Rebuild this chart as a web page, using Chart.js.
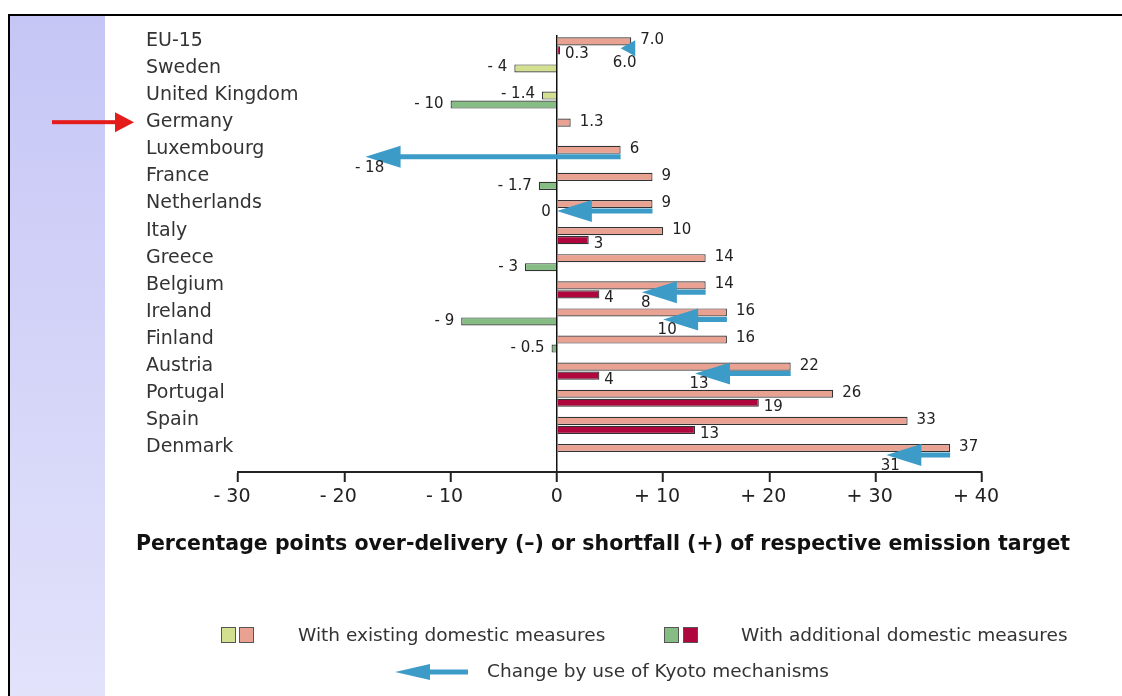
<!DOCTYPE html>
<html><head><meta charset="utf-8">
<script src="https://cdn.jsdelivr.net/npm/chart.js@4.4.0/dist/chart.umd.min.js"></script>
<style>
html,body{margin:0;padding:0;background:#fff;}
#wrap{position:relative;width:1122px;height:696px;overflow:hidden;background:#fff;font-family:'DejaVu Sans',sans-serif;}
#panel{position:absolute;left:10px;top:16px;width:95px;height:680px;background:linear-gradient(#c6c6f6,#e2e2fb);}
#topline{position:absolute;left:8px;top:14px;width:1114px;height:2px;background:#000;}
#leftline{position:absolute;left:8px;top:14px;width:2px;height:682px;background:#000;}
canvas{position:absolute;left:0;top:0;}
.sq{position:absolute;width:15px;height:16px;border:1px solid #555;box-sizing:border-box;}
.lt{position:absolute;font-size:18.5px;color:#333;line-height:22px;white-space:nowrap;}
#xtitle{position:absolute;left:103px;width:1000px;top:530px;line-height:26px;text-align:center;font-size:20.5px;font-weight:bold;color:#111;white-space:nowrap;}
</style></head>
<body>
<div id="wrap">
  <div id="panel"></div><div id="topline"></div><div id="leftline"></div>
  <canvas id="c" width="1122" height="696"></canvas>
  <div id="xtitle"></div>
  <div class="sq" id="sq1" style="left:221px;top:627px"></div>
  <div class="sq" id="sq2" style="left:239px;top:627px"></div>
  <div class="lt" style="left:298px;top:624px">With existing domestic measures</div>
  <div class="sq" id="sq3" style="left:664px;top:627px"></div>
  <div class="sq" id="sq4" style="left:683px;top:627px"></div>
  <div class="lt" style="left:741px;top:624px">With additional domestic measures</div>
  <svg style="position:absolute;left:390px;top:660px" width="85" height="24">
    <rect id="legShaft" x="38" y="9.5" width="40" height="5"/>
    <polygon id="legHead" points="5,12 40,4 40,20"/>
  </svg>
  <div class="lt" style="left:487px;top:660px">Change by use of Kyoto mechanisms</div>
</div>
<script>
// ---------------- data ----------------
const categories = ['EU-15','Sweden','United Kingdom','Germany','Luxembourg','France','Netherlands','Italy','Greece','Belgium','Ireland','Finland','Austria','Portugal','Spain','Denmark'];
const existingValues   = [7.0, -4, -1.4, 1.3, 6, 9, 9, 10, 14, 14, 16, 16, 22, 26, 33, 37];
const additionalValues = [0.3, null, -10, null, null, -1.7, null, 3, -3, 4, -9, -0.5, 4, 19, 13, null];
const existingLabels   = ['7.0','- 4','- 1.4','1.3','6','9','9','10','14','14','16','16','22','26','33','37'];
const additionalLabels = ['0.3',null,'- 10',null,null,'- 1.7',null,'3','- 3','4','- 9','- 0.5','4','19','13',null];
const kyotoCountries = ['EU-15','Luxembourg','Netherlands','Belgium','Ireland','Austria','Denmark'];
const kyotoFrom      = [7.0, 6, 9, 14, 16, 22, 37];
const kyotoTo        = [6.0, -18, 0, 8, 10, 13, 31];
const kyotoLabels    = ['6.0','- 18','0','8','10','13','31'];
const xTickValues = [-30,-20,-10,0,10,20,30,40];
const xTickLabels = ['- 30','- 20','- 10','0','+ 10','+ 20','+ 30','+ 40'];
const highlightedCountry = 'Germany';
const axisTitle = 'Percentage points over-delivery (\u2013) or shortfall (+) of respective emission target';

// ---------------- style ----------------
const COL = {existNeg:'#d3e08f', existPos:'#e9a191', addNeg:'#85bd85', addPos:'#b0063e', arrow:'#3d9bc8', red:'#e51c1c', text:'#333', label:'#222'};
const FONT = 'DejaVu Sans';
const ARROW_SHIFT = 0.09;

document.getElementById('xtitle').textContent = axisTitle;
document.getElementById('sq1').style.background = COL.existNeg;
document.getElementById('sq2').style.background = COL.existPos;
document.getElementById('sq3').style.background = COL.addNeg;
document.getElementById('sq4').style.background = COL.addPos;
document.getElementById('legShaft').setAttribute('fill', COL.arrow);
document.getElementById('legHead').setAttribute('fill', COL.arrow);

const rowOf = name => categories.indexOf(name);

function headGeom(fromPx, tipPx) {
  const len = Math.min(35, Math.abs(fromPx - tipPx) + 4);
  const half = Math.min(11, len * 0.55);
  const dir = fromPx >= tipPx ? 1 : -1;
  return {len, half, dir};
}

const arrowDatasets = kyotoFrom.map((f, k) => ({
  type: 'line',
  label: 'Change by use of Kyoto mechanisms',
  kyoto: k,
  data: [{x: f, y: rowOf(kyotoCountries[k]) + ARROW_SHIFT}, {x: kyotoTo[k], y: rowOf(kyotoCountries[k]) + ARROW_SHIFT}],
  borderColor: COL.arrow, borderWidth: 5, pointRadius: 0, fill: false, tension: 0,
  borderCapStyle: 'butt', clip: false, order: -1
}));

const arrowPlugin = {
  id: 'arrows',
  beforeDatasetDraw(chart, args) {
    const ds = chart.data.datasets[args.index];
    if (ds.kyoto === undefined) return;
    const pts = args.meta.data;
    const g = headGeom(pts[0].x, pts[1].x);
    const ctx = chart.ctx;
    ctx.save();
    ctx.beginPath();
    ctx.rect(0, 0, chart.width, chart.height);
    const a = pts[1].x - g.dir * 2, b = pts[1].x + g.dir * g.len * 0.7;
    ctx.rect(Math.min(a, b), pts[1].y - 4, Math.abs(b - a), 8);
    ctx.clip('evenodd');
  },
  afterDatasetDraw(chart, args) {
    const ds = chart.data.datasets[args.index];
    if (ds.kyoto === undefined) return;
    chart.ctx.restore();
  },
  afterDatasetsDraw(chart) {
    const ctx = chart.ctx;
    ctx.save();
    // arrow heads
    chart.data.datasets.forEach((ds, i) => {
      if (ds.kyoto === undefined) return;
      const pts = chart.getDatasetMeta(i).data;
      const tx = pts[1].x, ty = pts[1].y;
      const g = headGeom(pts[0].x, tx);
      ctx.fillStyle = COL.arrow;
      ctx.beginPath();
      ctx.moveTo(tx, ty);
      ctx.lineTo(tx + g.dir * g.len, ty - g.half);
      ctx.lineTo(tx + g.dir * g.len, ty + g.half);
      ctx.closePath();
      ctx.fill();
    });
    // value labels
    ctx.font = '15px "' + FONT + '"';
    ctx.fillStyle = COL.label;
    ctx.textBaseline = 'middle';
    chart.getDatasetMeta(0).data.forEach((el, i) => {
      const v = existingValues[i];
      if (v === null) return;
      if (v >= 0) { ctx.textAlign = 'left'; ctx.fillText(existingLabels[i], el.x + 9, el.y - 1); }
      else { ctx.textAlign = 'right'; ctx.fillText(existingLabels[i], el.x - 7, el.y - 1); }
    });
    chart.getDatasetMeta(1).data.forEach((el, i) => {
      const v = additionalValues[i];
      if (v === null) return;
      if (v >= 0) { ctx.textAlign = 'left'; ctx.fillText(additionalLabels[i], el.x + 5, el.y + 4); }
      else { ctx.textAlign = 'right'; ctx.fillText(additionalLabels[i], el.x - 7, el.y); }
    });
    chart.data.datasets.forEach((ds, i) => {
      if (ds.kyoto === undefined) return;
      const k = ds.kyoto;
      const pts = chart.getDatasetMeta(i).data;
      if (kyotoTo[k] === 0) { ctx.textAlign = 'right'; ctx.fillText(kyotoLabels[k], pts[1].x - 6, pts[1].y + 1); }
      else { ctx.textAlign = 'center'; ctx.fillText(kyotoLabels[k], pts[1].x + 4, pts[1].y + (k === 0 ? 15 : 11)); }
    });
    // red pointer to highlighted country
    const ys = chart.scales.y;
    const ry = ys.getPixelForValue(rowOf(highlightedCountry)) + ys.options.ticks.labelOffset;
    const tip = ys.left - 12;
    ctx.fillStyle = COL.red;
    ctx.fillRect(tip - 82, ry - 2, 66, 4);
    ctx.beginPath();
    ctx.moveTo(tip, ry);
    ctx.lineTo(tip - 19, ry - 10);
    ctx.lineTo(tip - 19, ry + 10);
    ctx.closePath();
    ctx.fill();
    ctx.restore();
  }
};

Chart.defaults.font.family = FONT;

new Chart(document.getElementById('c'), {
  type: 'bar',
  data: {
    datasets: [
      {
        label: 'With existing domestic measures',
        data: existingValues.map((v, i) => ({x: v, y: i})),
        backgroundColor: c => (c.raw && c.raw.x < 0) ? COL.existNeg : COL.existPos,
        borderColor: '#333', borderWidth: 1.2,
        categoryPercentage: 0.664, barPercentage: 0.9, clip: false
      },
      {
        label: 'With additional domestic measures',
        data: additionalValues.map((v, i) => ({x: v, y: i})),
        backgroundColor: c => (c.raw && c.raw.x < 0) ? COL.addNeg : COL.addPos,
        borderColor: '#333', borderWidth: 1.2,
        categoryPercentage: 0.664, barPercentage: 0.9, clip: false
      },
      ...arrowDatasets
    ]
  },
  options: {
    indexAxis: 'y',
    responsive: false,
    animation: false,
    devicePixelRatio: 1,
    events: [],
    layout: {padding: {left: 146, right: 140, top: 35, bottom: 0}},
    plugins: {legend: {display: false}, tooltip: {enabled: false}},
    scales: {
      x: {
        type: 'linear', min: -30, max: 40,
        afterBuildTicks: s => { s.ticks = xTickValues.map(v => ({value: v})); },
        afterFit: s => { s.height = 224; },
        ticks: {
          autoSkip: false, maxRotation: 0, padding: 4,
          font: {size: 19}, color: '#222',
          callback: (v) => {
            const lab = xTickLabels[xTickValues.indexOf(v)];
            return /^[-+] /.test(lab) ? lab + '  ' : lab;
          }
        },
        grid: {
          drawOnChartArea: true, drawTicks: true, tickLength: 10,
          color: c => (c.tick && c.tick.value === 0) ? '#111' : 'rgba(0,0,0,0)',
          lineWidth: 1.5, tickColor: '#222', tickWidth: 2
        },
        border: {display: true, color: '#222', width: 2},
        title: {display: false}
      },
      y: {
        type: 'linear', reverse: true, min: -0.4, max: 15.72, offset: false,
        afterBuildTicks: s => { s.ticks = categories.map((_, i) => ({value: i})); },
        afterFit: s => { s.width = 92; s._computeLabelArea = () => undefined; },
        ticks: {
          autoSkip: false, crossAlign: 'far', labelOffset: -5, padding: 0,
          font: {size: 19}, color: COL.text,
          callback: v => categories[v]
        },
        grid: {display: false},
        border: {display: false}
      }
    }
  },
  plugins: [arrowPlugin]
});
</script>
</body></html>
